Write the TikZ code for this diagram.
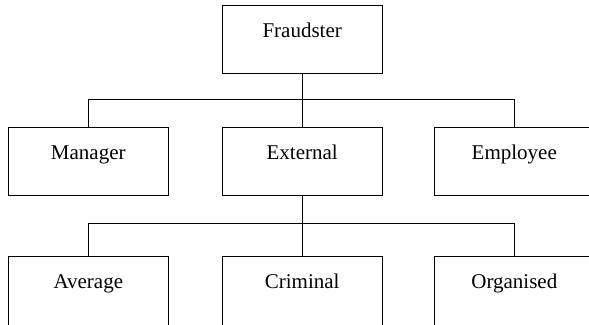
\documentclass[tikz,border=0pt]{standalone}
\usepackage{fontspec}
\setmainfont{Liberation Serif}
\begin{document}
\begin{tikzpicture}[x=1pt, y=1pt,
          every node/.style = {shape=rectangle, draw, line width=1.3pt,
            inner sep=0pt, minimum width=160pt,
            text height=32pt, text depth=36pt,
            font=\fontsize{21}{25}\selectfont},
          last/.style = {text depth=38pt},
          line/.style = {line width=1.3pt}]
          \useasboundingbox (0,0) rectangle (589,-324);
          \clip (0,0) rectangle (589,-324);
          \node (fraud) at (302.2,-39.3) {Fraudster};
          \node (man) at (88.3,-161.5) {Manager};
          \node (ext) at (302.2,-161.5) {External};
          \node (emp) at (514.3,-161.5) {Employee};
          \node[last] (avg) at (88.3,-291.3) {Average};
          \node[last] (crim) at (302.2,-291.3) {Criminal};
          \node[last] (org) at (514.3,-291.3) {Organised};
          \coordinate (fork1) at (302.2,-99.5);
          \coordinate (fork2) at (302.2,-223.7);
          \draw[line] (fraud.south) -- (ext.north);
          \draw[line] (man.north) |- (fork1) -| (emp.north);
          \draw[line] (ext.south) -- (crim.north);
          \draw[line] (avg.north) |- (fork2) -| (org.north);
        \end{tikzpicture}
\end{document}
